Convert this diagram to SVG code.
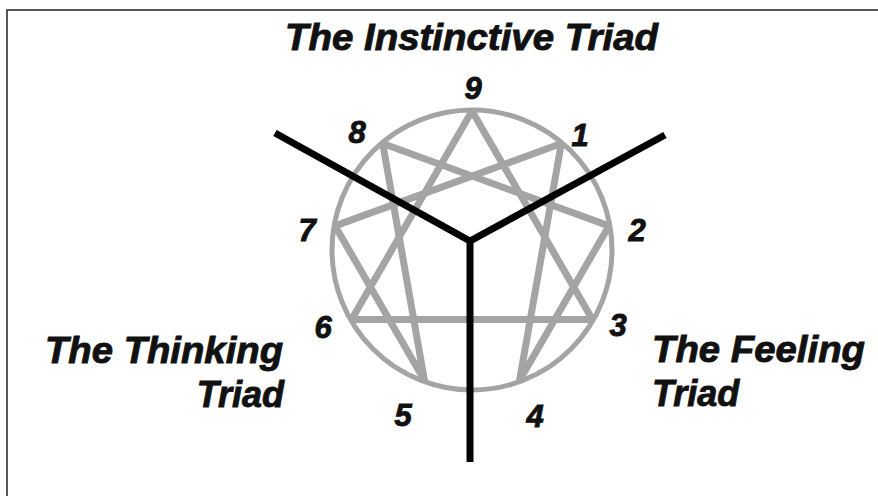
<svg xmlns="http://www.w3.org/2000/svg" width="878" height="496" viewBox="0 0 878 496">
<style>
.lbl{font-family:"Liberation Sans",Arial,sans-serif;font-weight:bold;font-style:italic;fill:#111;stroke:#111;stroke-width:0.9;}
.title{font-size:36px;}
.num{font-size:31px;text-anchor:middle;}
.gray{fill:none;stroke:#a4a4a4;stroke-linejoin:round;}
.triad{fill:none;stroke:#000;stroke-width:7;stroke-linejoin:miter;stroke-linecap:butt;}
</style>
<defs>
<clipPath id="circ"><circle cx="472" cy="250" r="142"/></clipPath>
</defs>
<rect x="0" y="0" width="878" height="496" fill="#fff"/>
<rect x="7" y="10" width="900" height="600" fill="none" stroke="#222" stroke-width="1.5"/>
<g id="enneagram">
<circle class="gray" cx="472" cy="250" r="140" stroke-width="5"/>
<g clip-path="url(#circ)">
<polygon class="gray" stroke-width="7" stroke-linejoin="miter" points="472,111 592.4,319.5 351.6,319.5"/>
<polygon class="gray" stroke-width="7" stroke-linejoin="miter" points="561.3,143.5 519.5,380.6 608.9,225.9 382.7,143.5 424.5,380.6 335.1,225.9"/>
</g>
</g>
<g id="connectors">
<polyline class="triad" points="275,133 470,241 665,135"/>
<polyline class="triad" points="470,241 470,462"/>
</g>
<g id="numbers">
<text class="lbl num" x="473" y="99">9</text>
<text class="lbl num" x="580" y="146">1</text>
<text class="lbl num" x="637" y="241">2</text>
<text class="lbl num" x="618" y="336">3</text>
<text class="lbl num" x="535" y="427">4</text>
<text class="lbl num" x="403" y="426">5</text>
<text class="lbl num" x="323" y="338">6</text>
<text class="lbl num" x="307" y="241">7</text>
<text class="lbl num" x="357" y="143">8</text>
</g>
<g id="instinctive">
<text class="lbl title" x="285" y="50" textLength="373" lengthAdjust="spacingAndGlyphs">The Instinctive Triad</text>
</g>
<g id="thinking">
<text class="lbl title" x="45" y="363" textLength="238" lengthAdjust="spacingAndGlyphs">The Thinking</text>
<text class="lbl title" x="284" y="407" text-anchor="end">Triad</text>
</g>
<g id="feeling">
<text class="lbl title" x="652" y="362" textLength="213" lengthAdjust="spacingAndGlyphs">The Feeling</text>
<text class="lbl title" x="652" y="406">Triad</text>
</g>
</svg>
